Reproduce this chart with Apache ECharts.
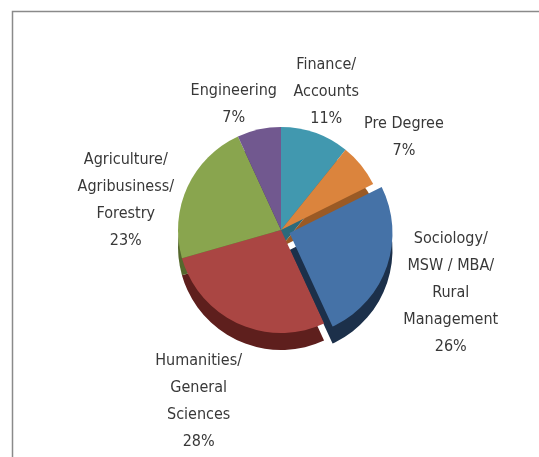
<!DOCTYPE html>
<html>
<head>
<meta charset="utf-8">
<script src="https://cdn.jsdelivr.net/npm/echarts@6/dist/echarts.min.js"></script>
<style>html,body{margin:0;padding:0;background:#fff}#c{width:539px;height:457px}</style>
</head>
<body>
<div id="c"></div>
<script>
const categories = ["Finance/\nAccounts", "Pre Degree", "Sociology/\nMSW / MBA/\nRural\nManagement", "Humanities/\nGeneral\nSciences", "Agriculture/\nAgribusiness/\nForestry", "Engineering"];
const values = [11, 7, 26, 28, 23, 7];
const faceColors = ["#4198AF", "#DB843D", "#4572A7", "#AA4643", "#89A54E", "#71588F"];
const sideColors = ["#2b6a7b", "#9a5a25", "#1c304a", "#5e1f1d", "#55682d", "#45355a"];
const exploded = [false, false, true, false, false, false];
// label nudges (px) relative to ECharts' outside label anchor
const labelNudge = [[1, -27], [26, -19], [45, 21], [-28, 64], [-43, 20], [-17, -10]];

const FONT = '"DejaVu Sans Condensed", "Open Sans", sans-serif';
const chart = echarts.init(document.getElementById('c'), null, {renderer: 'canvas'});

function buildData(colors) {
  return categories.map((n, i) => ({
    name: n, value: values[i], selected: exploded[i],
    itemStyle: {color: colors[i]}
  }));
}

chart.setOption({
  animation: false,
  graphic: [{
    type: 'rect', left: 10, top: 9, silent: true,
    shape: {width: 560, height: 480},
    style: {fill: 'none', stroke: '#8a8a8a', lineWidth: 1.5}
  }],
  series: [
    {
      type: 'pie', z: 1, center: [281, 247], radius: 103,
      startAngle: 90, clockwise: true,
      selectedMode: 'multiple', selectedOffset: 9,
      data: buildData(sideColors),
      label: {show: false}, labelLine: {show: false},
      emphasis: {disabled: true}, silent: true
    },
    {
      type: 'pie', z: 2, center: [281, 230], radius: 103,
      startAngle: 90, clockwise: true,
      selectedMode: 'multiple', selectedOffset: 9,
      avoidLabelOverlap: false,
      data: buildData(faceColors),
      label: {
        show: true, position: 'outside', overflow: 'none',
        formatter: p => p.name + '\n' + p.value + '%',
        fontFamily: FONT, fontSize: 16, lineHeight: 27, color: '#383838'
      },
      labelLine: {show: false, length: 15, length2: 0},
      labelLayout: p => ({
        align: 'center',
        dx: labelNudge[p.dataIndex][0],
        dy: labelNudge[p.dataIndex][1]
      }),
      emphasis: {disabled: true}, silent: true
    }
  ]
});
</script>
</body>
</html>
